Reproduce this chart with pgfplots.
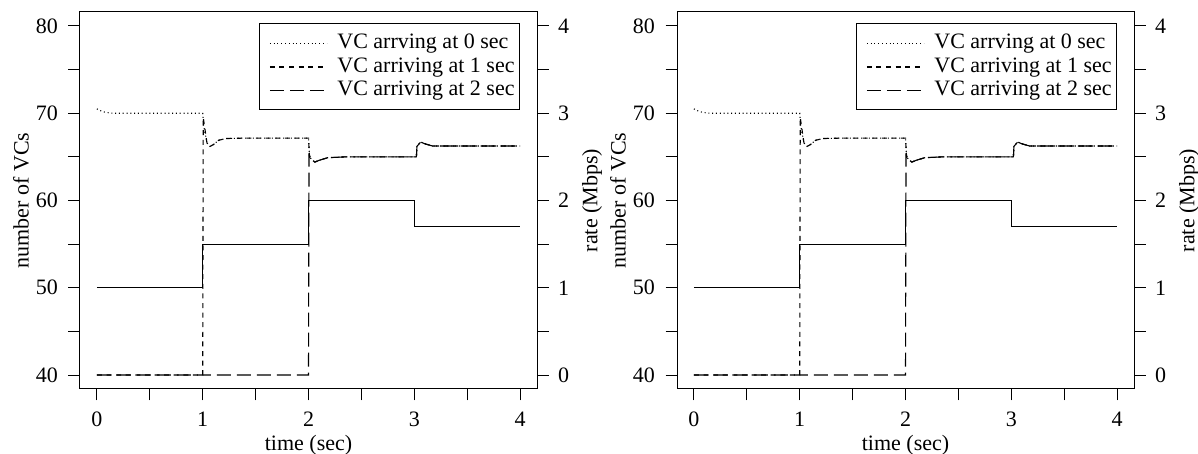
\documentclass[border=0pt]{standalone}
\usepackage{fontspec}
\setmainfont{Liberation Serif}
\usepackage{pgfplots}
\pgfplotsset{compat=1.18}

\pgfplotstableread{
t rate
0 3.05
0.03 3.03
0.08 3.01
0.15 3.0
1.0 3.0
1.01 2.85
1.04 2.66
1.07 2.62
1.1 2.64
1.15 2.69
1.22 2.71
1.4 2.715
2.0 2.715
2.01 2.5
2.03 2.47
2.06 2.44
2.1 2.46
2.18 2.49
2.35 2.50
3.02 2.50
3.025 2.62
3.06 2.67
3.1 2.65
3.17 2.625
4.0 2.625
}\vczero

\pgfplotstableread{
t rate
0 0
1.0 0
1.005 2.95
1.04 2.66
1.07 2.62
1.1 2.64
1.15 2.69
1.22 2.71
1.4 2.715
2.0 2.715
2.01 2.5
2.03 2.47
2.06 2.44
2.1 2.46
2.18 2.49
2.35 2.50
3.02 2.50
3.025 2.62
3.06 2.67
3.1 2.65
3.17 2.625
4.0 2.625
}\vcone

\pgfplotstableread{
t rate
0 0
2.0 0
2.005 2.52
2.03 2.47
2.06 2.44
2.1 2.46
2.18 2.49
2.35 2.50
3.02 2.50
3.025 2.62
3.06 2.67
3.1 2.65
3.17 2.625
4.0 2.625
}\vctwo

\pgfplotstableread{
t n
0 50
1 50
1 55
2 55
2 60
3 60
3 57
4 57
}\nvc

\pgfplotsset{
  rstyle/.style={
    scale only axis, width=228.5pt, height=188.5pt,
    xmin=-0.16, xmax=4.16,
    font=\fontsize{11}{13}\selectfont,
    tick align=outside,
    major tick length=5.75pt,
    tick style={black, line width=0.5pt},
    axis line style={black, line width=0.5pt},
    /pgf/number format/assume math mode=true,
  },
  leftax/.style={rstyle,
    ymin=38.4, ymax=81.6,
    xtick={0,0.5,...,4}, xticklabels={0,,1,,2,,3,,4},
    ytick={40,45,...,80}, yticklabels={40,,50,,60,,70,,80},
    xtick pos=left, ytick pos=left,
    xlabel={time (sec)}, ylabel={number of VCs},
    xlabel style={at={(axis description cs:0.5,-0.1485)}, anchor=center},
    ylabel style={at={(axis description cs:-0.1291,0.5)}, anchor=center},
    yticklabel style={xshift=-1.8pt},
    xticklabel style={yshift=-2.4pt},
  },
  rightax/.style={rstyle,
    ymin=-0.16, ymax=4.16,
    axis x line=none, axis y line*=right,
    ytick={0,0.5,...,4}, yticklabels={0,,1,,2,,3,,4},
    ylabel={rate (Mbps)},
    ylabel style={at={(axis description cs:1.1204,0.5)}, anchor=center},
    yticklabel style={xshift=1.3pt},
    legend style={at={(axis description cs:0.963,0.9695)}, anchor=north east, draw=black, line width=0.5pt,
      inner xsep=2.5pt, inner ysep=3.8pt, row sep=0pt,
      nodes={inner xsep=0pt, inner ysep=0.7pt, text height=7.8pt, text depth=2.6pt},
      /tikz/every odd column/.append style={column sep=5pt}},
    legend cell align=left,
    legend image code/.code={\path[draw=none] (-2.5pt,0pt) -- (28.5pt,0pt); \draw[##1] (0pt,0pt) -- (28.5pt,0pt);},
  },
  sdot/.style={black, line width=0.55pt, dash pattern=on 0.5pt off 1.4pt},
  sdash/.style={black, line width=0.55pt, dash pattern=on 2.5pt off 2.3pt},
  slong/.style={black, line width=0.55pt, dash pattern=on 7pt off 3pt},
  ssolid/.style={black, line width=0.55pt},
}

\begin{document}
\begin{tikzpicture}
\useasboundingbox (-40pt,-32.5pt) rectangle (559pt,194.5pt);
% left panel
\begin{axis}[leftax, at={(0pt,0pt)}]
  \addplot[ssolid] table[x=t, y=n] {\nvc};
\end{axis}
\begin{axis}[rightax, at={(0pt,0pt)}]
  \addplot[sdot] table[x=t, y=rate] {\vczero};
  \addlegendentry{VC arrving at 0 sec}
  \addplot[sdash] table[x=t, y=rate] {\vcone};
  \addlegendentry{VC arriving at 1 sec}
  \addplot[slong] table[x=t, y=rate] {\vctwo};
  \addlegendentry{VC arriving at 2 sec}
\end{axis}
% right panel
\begin{axis}[leftax, at={(298.5pt,0pt)}]
  \addplot[ssolid] table[x=t, y=n] {\nvc};
\end{axis}
\begin{axis}[rightax, at={(298.5pt,0pt)}]
  \addplot[sdot] table[x=t, y=rate] {\vczero};
  \addlegendentry{VC arrving at 0 sec}
  \addplot[sdash] table[x=t, y=rate] {\vcone};
  \addlegendentry{VC arriving at 1 sec}
  \addplot[slong] table[x=t, y=rate] {\vctwo};
  \addlegendentry{VC arriving at 2 sec}
\end{axis}
\end{tikzpicture}
\end{document}
